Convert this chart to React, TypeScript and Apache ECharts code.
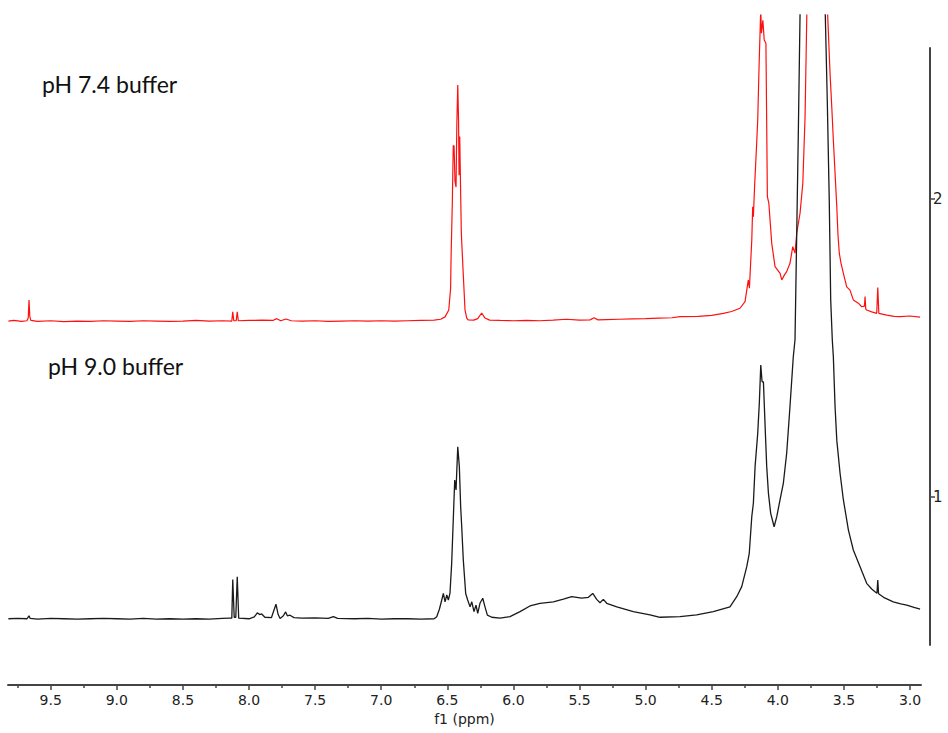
import React, { useEffect, useRef } from "react";
import * as echarts from "echarts";

// x axis tick labels (ppm)
const majorTicks = [3.0, 3.5, 4.0, 4.5, 5.0, 5.5, 6.0, 6.5, 7.0, 7.5, 8.0, 8.5, 9.0, 9.5];
const minorTicks = [3.25, 3.75, 4.25, 4.75, 5.25, 5.75, 6.25, 6.75, 7.25, 7.75, 8.25, 8.75, 9.25, 9.75];
const yTicks = [1, 2];

const labelTop = "pH 7.4 buffer";
const labelBottom = "pH 9.0 buffer";

// pH 7.4 spectrum (red): [ppm, intensity]
const redTrace: [number, number][] = [
  [9.82, 1.590], [9.78, 1.592], [9.72, 1.589], [9.68, 1.591], [9.67, 1.600], [9.664, 1.661], [9.658, 1.605],
  [9.65, 1.592], [9.6, 1.589], [9.5, 1.591], [9.4, 1.588], [9.3, 1.590], [9.2, 1.589], [9.1, 1.591],
  [9.0, 1.590], [8.9, 1.589], [8.8, 1.591], [8.7, 1.590], [8.6, 1.589], [8.5, 1.590], [8.4, 1.592],
  [8.3, 1.590], [8.2, 1.591], [8.13, 1.590], [8.123, 1.621], [8.115, 1.591], [8.097, 1.591], [8.089, 1.621],
  [8.081, 1.591], [8.0, 1.592], [7.9, 1.593], [7.82, 1.592], [7.79, 1.598], [7.76, 1.591], [7.72, 1.597],
  [7.68, 1.591], [7.6, 1.590], [7.5, 1.591], [7.4, 1.589], [7.3, 1.590], [7.2, 1.591], [7.1, 1.590],
  [7.0, 1.591], [6.9, 1.590], [6.8, 1.591], [6.7, 1.592], [6.6, 1.593], [6.55, 1.596], [6.517, 1.604],
  [6.489, 1.627], [6.475, 1.70], [6.472, 1.795], [6.462, 1.99], [6.455, 2.18], [6.449, 2.178], [6.442, 2.06],
  [6.434, 2.04], [6.428, 2.25], [6.421, 2.383], [6.415, 2.265], [6.411, 2.08], [6.406, 2.21], [6.402, 2.097],
  [6.394, 1.886], [6.381, 1.762], [6.366, 1.627], [6.353, 1.6], [6.343, 1.594], [6.3, 1.593], [6.27, 1.598],
  [6.24, 1.617], [6.215, 1.6], [6.18, 1.593], [6.1, 1.592], [6.0, 1.591], [5.9, 1.592], [5.8, 1.591],
  [5.7, 1.593], [5.6, 1.596], [5.5, 1.593], [5.42, 1.594], [5.39, 1.601], [5.36, 1.594], [5.3, 1.595],
  [5.2, 1.596], [5.1, 1.597], [5.0, 1.598], [4.9, 1.6], [4.8, 1.601], [4.74, 1.605], [4.6, 1.606],
  [4.5, 1.609], [4.412, 1.616], [4.35, 1.622], [4.286, 1.633], [4.248, 1.655], [4.235, 1.694], [4.223, 1.728],
  [4.215, 1.7], [4.205, 1.79], [4.197, 1.862], [4.19, 1.974], [4.185, 1.94], [4.175, 2.05], [4.16, 2.187],
  [4.152, 2.265], [4.142, 2.444], [4.129, 2.64], [4.124, 2.557], [4.113, 2.6], [4.103, 2.534], [4.09, 2.523],
  [4.089, 2.478], [4.079, 2.008], [4.068, 1.986], [4.046, 1.851], [4.021, 1.773], [3.983, 1.75], [3.97, 1.728],
  [3.95, 1.745], [3.933, 1.756], [3.908, 1.784], [3.887, 1.84], [3.87, 1.818], [3.857, 1.885], [3.832, 1.952],
  [3.811, 2.053], [3.794, 2.276], [3.781, 2.612], [3.77, 2.9], [3.7, 3.3], [3.64, 2.9], [3.623, 2.618],
  [3.605, 2.422], [3.592, 2.31], [3.58, 2.198], [3.567, 2.086], [3.554, 1.974], [3.545, 1.88], [3.535, 1.818],
  [3.522, 1.784], [3.504, 1.75], [3.479, 1.705], [3.454, 1.694], [3.429, 1.661], [3.391, 1.65], [3.365, 1.638],
  [3.345, 1.64], [3.34, 1.672], [3.335, 1.63], [3.327, 1.627], [3.29, 1.621], [3.252, 1.616], [3.244, 1.703],
  [3.236, 1.616], [3.176, 1.61], [3.12, 1.606], [3.076, 1.605], [3.0, 1.607], [2.924, 1.603],
];

// pH 9.0 spectrum (black): [ppm, intensity]
const blackTrace: [number, number][] = [
  [9.82, 0.59], [9.75, 0.591], [9.68, 0.59], [9.664, 0.6], [9.655, 0.591], [9.6, 0.589], [9.5, 0.591],
  [9.4, 0.59], [9.3, 0.589], [9.2, 0.59], [9.1, 0.591], [9.0, 0.59], [8.9, 0.589], [8.8, 0.591],
  [8.7, 0.589], [8.6, 0.59], [8.5, 0.589], [8.4, 0.59], [8.3, 0.589], [8.2, 0.591], [8.15, 0.592],
  [8.13, 0.592], [8.123, 0.722], [8.112, 0.595], [8.1, 0.595], [8.089, 0.731], [8.078, 0.592], [8.0, 0.59],
  [7.96, 0.596], [7.937, 0.61], [7.92, 0.604], [7.904, 0.606], [7.88, 0.595], [7.83, 0.594], [7.796, 0.639],
  [7.78, 0.605], [7.765, 0.591], [7.74, 0.6], [7.723, 0.613], [7.71, 0.6], [7.69, 0.602], [7.66, 0.594],
  [7.6, 0.592], [7.5, 0.593], [7.4, 0.591], [7.362, 0.597], [7.33, 0.591], [7.2, 0.59], [7.1, 0.591],
  [7.0, 0.589], [6.9, 0.59], [6.8, 0.59], [6.7, 0.589], [6.6, 0.59], [6.58, 0.597], [6.56, 0.622],
  [6.542, 0.653], [6.53, 0.675], [6.517, 0.647], [6.504, 0.67], [6.492, 0.653], [6.48, 0.675], [6.467, 0.776],
  [6.455, 0.922], [6.444, 1.056], [6.434, 1.023], [6.421, 1.168], [6.409, 1.101], [6.399, 0.966], [6.391, 0.899],
  [6.379, 0.787], [6.361, 0.675], [6.346, 0.653], [6.328, 0.63], [6.315, 0.647], [6.298, 0.614], [6.283, 0.636],
  [6.27, 0.608], [6.253, 0.642], [6.232, 0.659], [6.215, 0.63], [6.197, 0.602], [6.164, 0.595], [6.101, 0.592],
  [6.026, 0.597], [5.95, 0.614], [5.875, 0.633], [5.799, 0.642], [5.698, 0.647], [5.622, 0.656], [5.559, 0.664],
  [5.484, 0.659], [5.433, 0.662], [5.4, 0.675], [5.37, 0.655], [5.345, 0.644], [5.32, 0.655], [5.294, 0.642],
  [5.218, 0.63], [5.093, 0.614], [4.967, 0.603], [4.891, 0.595], [4.74, 0.597], [4.614, 0.603], [4.488, 0.614],
  [4.362, 0.63], [4.311, 0.664], [4.273, 0.698], [4.235, 0.765], [4.216, 0.81], [4.197, 0.933], [4.185, 0.978],
  [4.172, 1.101], [4.152, 1.213], [4.14, 1.314], [4.129, 1.442], [4.119, 1.386], [4.109, 1.386], [4.096, 1.235],
  [4.084, 1.101], [4.071, 1.011], [4.054, 0.944], [4.028, 0.899], [4.008, 0.933], [3.983, 0.99], [3.958, 1.046],
  [3.933, 1.146], [3.908, 1.303], [3.883, 1.47], [3.87, 1.527], [3.857, 1.885], [3.845, 2.221], [3.832, 2.618],
  [3.8, 3.4], [3.73, 3.8], [3.66, 3.4], [3.641, 2.618], [3.626, 2.333], [3.611, 1.997], [3.6, 1.661],
  [3.588, 1.527], [3.58, 1.47], [3.567, 1.302], [3.554, 1.19], [3.529, 1.078], [3.504, 0.989], [3.466, 0.888],
  [3.429, 0.821], [3.378, 0.765], [3.328, 0.709], [3.29, 0.69], [3.265, 0.681], [3.25, 0.676], [3.244, 0.72],
  [3.238, 0.674], [3.2, 0.662], [3.127, 0.647], [3.07, 0.64], [3.025, 0.636], [2.97, 0.628], [2.924, 0.622],
];

const X_MIN = 2.917;
const X_MAX = 9.823;

export default function App() {
  const ref = useRef<HTMLDivElement>(null);

  useEffect(() => {
    if (!ref.current) return;
    const chart = echarts.init(ref.current, null, { renderer: "svg" });
    const axisColor = "#444";
    const labelFont = "DejaVu Sans, Verdana, sans-serif";
    chart.setOption({
      animation: false,
      backgroundColor: "#ffffff",
      grid: [
        { left: 8, right: 27, top: 15, bottom: 48 },
        { left: 8, right: 18, top: 48, bottom: 88 },
      ],
      xAxis: [
        {
          type: "value",
          gridIndex: 0,
          inverse: true,
          min: X_MIN,
          max: X_MAX,
          position: "bottom",
          splitLine: { show: false },
          axisLine: { show: true, lineStyle: { color: axisColor, width: 2 } },
          axisTick: { show: true, customValues: majorTicks, length: 5, lineStyle: { color: axisColor, width: 1.5 } },
          axisLabel: {
            show: true,
            customValues: majorTicks,
            formatter: (v: number) => v.toFixed(1),
            fontSize: 14,
            fontFamily: labelFont,
            color: "#222",
            margin: 8,
          },
          name: "f1 (ppm)",
          nameLocation: "middle",
          nameGap: 27,
          nameTextStyle: { fontSize: 14, fontFamily: labelFont, color: "#222" },
        },
        {
          type: "value",
          gridIndex: 0,
          inverse: true,
          min: X_MIN,
          max: X_MAX,
          position: "bottom",
          offset: 0,
          splitLine: { show: false },
          axisLine: { show: false },
          axisTick: { show: true, customValues: minorTicks, length: 3, lineStyle: { color: axisColor, width: 1.5 } },
          axisLabel: { show: false },
        },
        {
          type: "value",
          gridIndex: 1,
          show: false,
          min: X_MIN,
          max: X_MAX,
        },
      ],
      yAxis: [
        {
          type: "value",
          gridIndex: 0,
          show: false,
          min: 0.3675,
          max: 2.618,
        },
        {
          type: "value",
          gridIndex: 1,
          position: "right",
          min: 0.502,
          max: 2.507,
          splitLine: { show: false },
          axisLine: { show: true, lineStyle: { color: axisColor, width: 2 } },
          axisTick: { show: true, inside: false, customValues: yTicks, length: 5, lineStyle: { color: axisColor, width: 1.5 } },
          axisLabel: {
            show: true,
            customValues: yTicks,
            formatter: (v: number) => String(v),
            fontSize: 15,
            fontFamily: labelFont,
            color: "#222",
            margin: 3,
          },
        },
      ],
      series: [
        {
          type: "line",
          name: labelTop,
          xAxisIndex: 0,
          yAxisIndex: 0,
          data: redTrace,
          showSymbol: false,
          symbol: "none",
          clip: true,
          lineStyle: { color: "#ff1010", width: 1.2 },
          silent: true,
        },
        {
          type: "line",
          name: labelBottom,
          xAxisIndex: 0,
          yAxisIndex: 0,
          data: blackTrace,
          showSymbol: false,
          symbol: "none",
          clip: true,
          lineStyle: { color: "#1a1a1a", width: 1.3 },
          silent: true,
        },
      ],
      graphic: [
        {
          type: "text",
          left: 42,
          top: 72,
          style: { text: labelTop, font: "23px Lato, 'Open Sans', sans-serif", fill: "#111" },
        },
        {
          type: "text",
          left: 48,
          top: 354,
          style: { text: labelBottom, font: "23px Lato, 'Open Sans', sans-serif", fill: "#111" },
        },
      ],
    });
    return () => chart.dispose();
  }, []);

  return (
    <div
      ref={ref}
      style={{ position: "fixed", left: 0, top: 0, width: 948, height: 733, background: "#fff" }}
    />
  );
}
